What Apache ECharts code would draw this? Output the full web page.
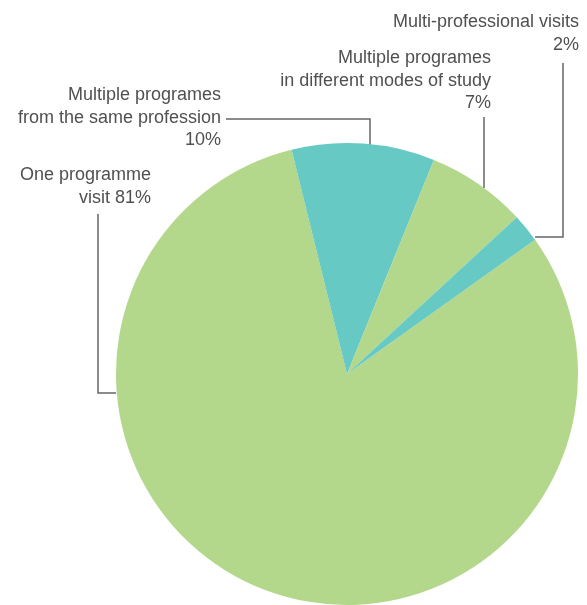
<!DOCTYPE html>
<html>
<head>
<meta charset="utf-8">
<script src="https://cdn.jsdelivr.net/npm/echarts@6/dist/echarts.min.js"></script>
<style>html,body{margin:0;padding:0;background:#fff}#c{width:587px;height:605px}</style>
</head>
<body>
<div id="c"></div>
<script>
var categories = ['One programme visit', 'Multiple programes from the same profession', 'Multiple programes in different modes of study', 'Multi-professional visits'];
var values = [81, 10, 7, 2];
var labelTexts = ['One programme\nvisit 81%', 'Multiple programes\nfrom the same profession\n10%', 'Multiple programes\nin different modes of study\n7%', 'Multi-professional visits\n2%'];
var colors = ['#b3d78b', '#67c9c4', '#b3d78b', '#67c9c4'];

// label placement (layout only)
var labelPos = [
  {x: 151, y: 164, line: [[116, 393], [98, 393], [98, 214]]},
  {x: 221, y: 84, line: [[370, 145], [370, 119], [226, 119]]},
  {x: 491, y: 47, line: [[484, 188], [484, 117]]},
  {x: 579, y: 11, line: [[535, 237], [563, 237], [563, 63]]}
];

var chart = echarts.init(document.getElementById('c'), null, {renderer: 'canvas'});
chart.setOption({
  animation: false,
  series: [{
    type: 'pie',
    center: [347, 374],
    radius: 231,
    startAngle: 35.5,
    clockwise: true,
    avoidLabelOverlap: false,
    emphasis: {disabled: true},
    itemStyle: {borderWidth: 0},
    data: categories.map(function (c, i) {
      return {name: c, value: values[i], itemStyle: {color: colors[i]}};
    }),
    label: {
      show: true,
      formatter: function (p) { return labelTexts[p.dataIndex]; },
      fontFamily: 'Liberation Sans, Arial, sans-serif',
      fontSize: 18,
      lineHeight: 22.5,
      color: '#505050',
      align: 'right'
    },
    labelLine: {show: true, lineStyle: {color: '#666', width: 1.5}},
    labelLayout: function (params) {
      var p = labelPos[params.dataIndex];
      return {x: p.x, y: p.y, align: 'right', verticalAlign: 'top', labelLinePoints: p.line};
    }
  }]
});
</script>
</body>
</html>
